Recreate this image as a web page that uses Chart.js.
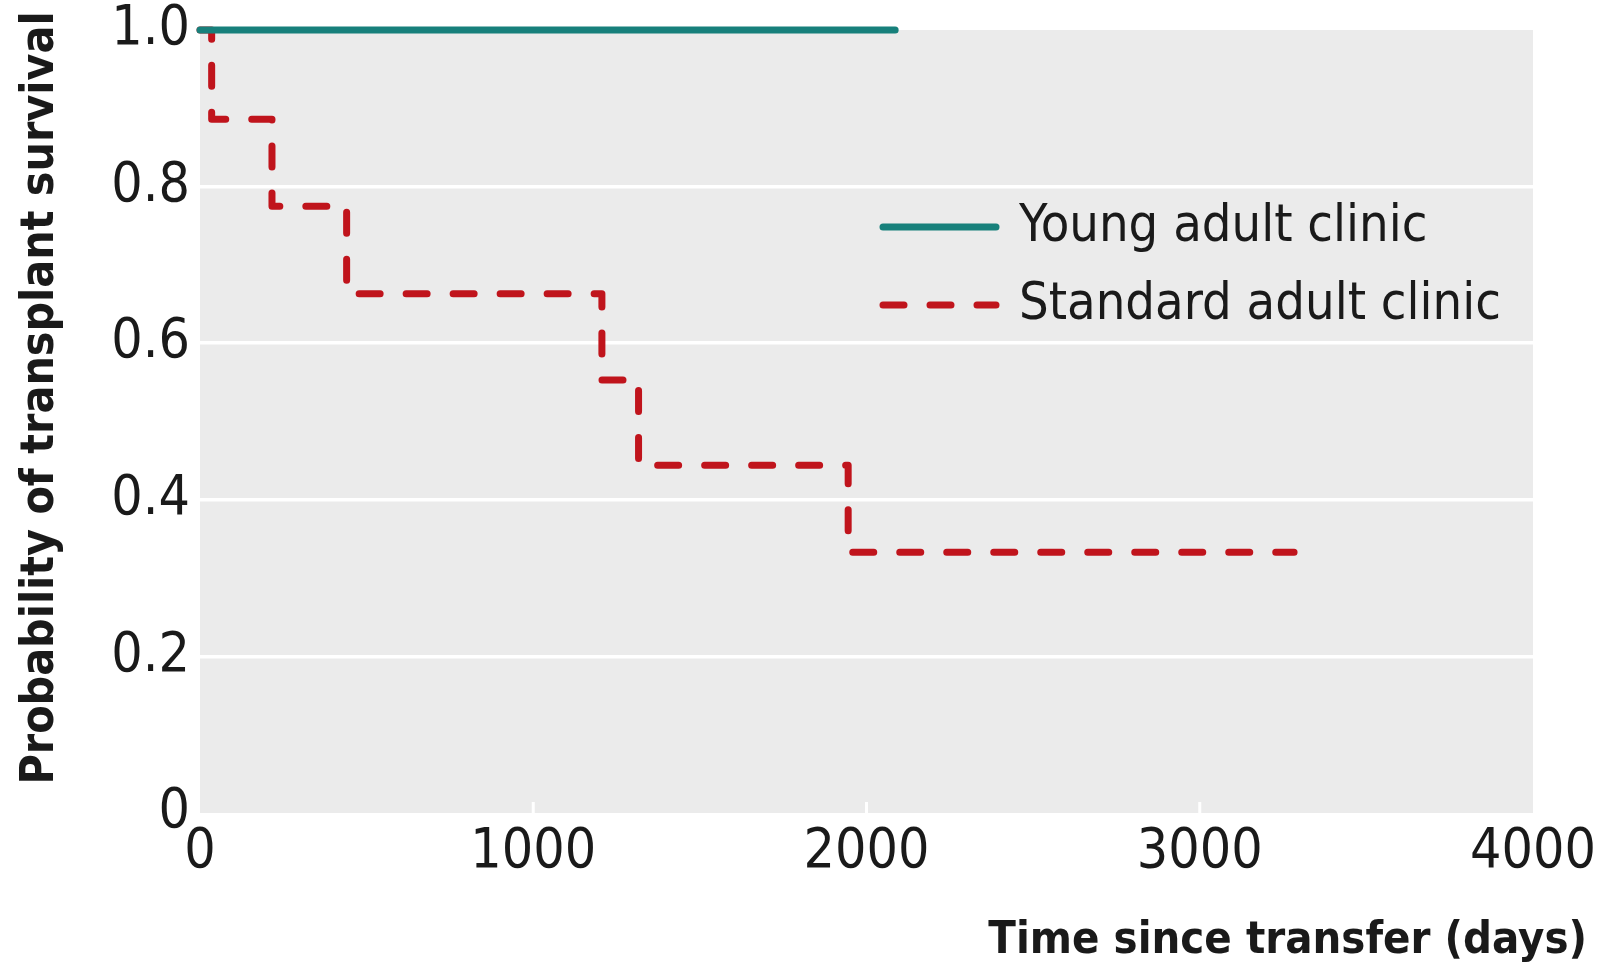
<!DOCTYPE html>
<html>
<head>
<meta charset="utf-8">
<script src="https://cdn.jsdelivr.net/npm/chart.js@4.4.1/dist/chart.umd.min.js"></script>
<style>
  html, body { margin: 0; padding: 0; background: #fff; }
  #wrap { width: 1608px; height: 972px; position: relative; }
</style>
</head>
<body>
<div id="wrap"><canvas id="myChart"></canvas></div>
<script>
// Kaplan-Meier curves
const youngDays = [0, 2086];
const youngSurv = [1.0, 1.0];
const standardDays = [0, 35, 216, 440, 1206, 1316, 1945, 3283];
const standardSurv = [1.0, 0.886, 0.775, 0.663, 0.553, 0.444, 0.333, 0.333];

const seriesNames = ['Young adult clinic', 'Standard adult clinic'];
const xTicks = [0, 1000, 2000, 3000, 4000];
const yTickLabels = ['0', '0.2', '0.4', '0.6', '0.8', '1.0'];
const yTitle = 'Probability of transplant survival';
const xTitle = 'Time since transfer (days)';

const FONT = "'DejaVu Sans Condensed', 'Liberation Sans Narrow', 'Open Sans', sans-serif";
const TEXT = '#1a1a1a';
const TEAL = '#17807b';
const RED = '#c0141c';

function toPoints(xs, ys) {
    return xs.map((x, i) => ({ x: x, y: ys[i] }));
}

// grey panel behind the plot
const panelBg = {
    id: 'panelBg',
    beforeDraw(chart) {
        const { ctx, chartArea } = chart;
        ctx.save();
        ctx.fillStyle = '#ebebeb';
        ctx.fillRect(chartArea.left, chartArea.top, chartArea.right - chartArea.left, chartArea.bottom - chartArea.top);
        ctx.restore();
    }
};

// small white tick marks at the bottom of the panel
const innerTicks = {
    id: 'innerTicks',
    beforeDatasetsDraw(chart) {
        const { ctx, chartArea, scales } = chart;
        ctx.save();
        ctx.strokeStyle = '#ffffff';
        ctx.lineWidth = 3;
        xTicks.slice(1, -1).forEach(v => {
            const px = scales.x.getPixelForValue(v);
            ctx.beginPath();
            ctx.moveTo(px, chartArea.bottom);
            ctx.lineTo(px, chartArea.bottom - 11);
            ctx.stroke();
        });
        ctx.restore();
    }
};

// y axis title, a bit above the panel centre like the original
const yAxisTitle = {
    id: 'yAxisTitle',
    afterDraw(chart) {
        const { ctx } = chart;
        ctx.save();
        ctx.translate(41, 398);
        ctx.rotate(-Math.PI / 2);
        ctx.fillStyle = TEXT;
        ctx.font = 'bold 46px ' + FONT;
        ctx.textAlign = 'center';
        ctx.textBaseline = 'middle';
        ctx.fillText(yTitle, 0, 0);
        ctx.restore();
    }
};

// legend drawn inside the panel
const insideLegend = {
    id: 'insideLegend',
    afterDraw(chart) {
        const { ctx } = chart;
        const rows = [227, 305];
        ctx.save();
        chart.data.datasets.forEach((ds, i) => {
            const y = rows[i];
            ctx.strokeStyle = ds.borderColor;
            ctx.lineWidth = ds.borderWidth;
            ctx.lineCap = 'round';
            ctx.setLineDash(ds.borderDash || []);
            ctx.beginPath();
            ctx.moveTo(883, y);
            ctx.lineTo(996, y);
            ctx.stroke();
            ctx.setLineDash([]);
            ctx.fillStyle = TEXT;
            ctx.font = '52px ' + FONT;
            ctx.textBaseline = 'middle';
            ctx.fillText(ds.label, 1019, y);
        });
        ctx.restore();
    }
};

const ctx = document.getElementById('myChart');

new Chart(ctx, {
    type: 'line',
    data: {
        datasets: [
            {
                label: seriesNames[0],
                data: toPoints(youngDays, youngSurv),
                borderColor: TEAL,
                borderWidth: 7,
                borderCapStyle: 'round',
                stepped: 'before',
                pointRadius: 0,
                clip: false,
                fill: false
            },
            {
                label: seriesNames[1],
                data: toPoints(standardDays, standardSurv),
                borderColor: RED,
                borderWidth: 7,
                borderDash: [21, 26],
                borderCapStyle: 'round',
                borderJoinStyle: 'round',
                stepped: 'before',
                pointRadius: 0,
                clip: false,
                fill: false
            }
        ]
    },
    options: {
        responsive: true,
        maintainAspectRatio: false,
        animation: false,
        layout: { padding: { left: 18, right: 21, top: 30, bottom: 0 } },
        plugins: {
            legend: { display: false },
            tooltip: { enabled: false },
            title: {
                display: true,
                text: xTitle,
                position: 'bottom',
                align: 'end',
                color: TEXT,
                font: { family: FONT, size: 45, weight: 'bold' },
                padding: { top: 0, bottom: 4 }
            }
        },
        scales: {
            x: {
                type: 'linear',
                min: 0,
                max: 4000,
                afterBuildTicks: (scale) => { scale.ticks = xTicks.map(v => ({ value: v })); },
                afterFit: (scale) => { scale.height = 101; scale.paddingRight = 75; },
                grid: { display: false, drawTicks: false },
                border: { display: false },
                ticks: {
                    color: TEXT,
                    font: { family: FONT, size: 55 },
                    padding: 7,
                    maxRotation: 0,
                    callback: (v) => String(v)
                }
            },
            y: {
                min: 0,
                max: 1,
                afterBuildTicks: (scale) => { scale.ticks = yTickLabels.map(t => ({ value: parseFloat(t) })); },
                afterFit: (scale) => { scale.width = 182; scale.paddingTop = 0; scale.paddingBottom = 0; },
                grid: {
                    color: (c) => (c.tick && c.tick.value > 0.01 && c.tick.value < 0.99) ? '#ffffff' : 'rgba(0,0,0,0)',
                    lineWidth: 3.5,
                    drawTicks: false
                },
                border: { display: false },
                ticks: {
                    color: TEXT,
                    font: { family: FONT, size: 55 },
                    padding: 10,
                    callback: (v) => yTickLabels[Math.round(v * 5)]
                }
            }
        }
    },
    plugins: [panelBg, innerTicks, yAxisTitle, insideLegend]
});
</script>
</body>
</html>
